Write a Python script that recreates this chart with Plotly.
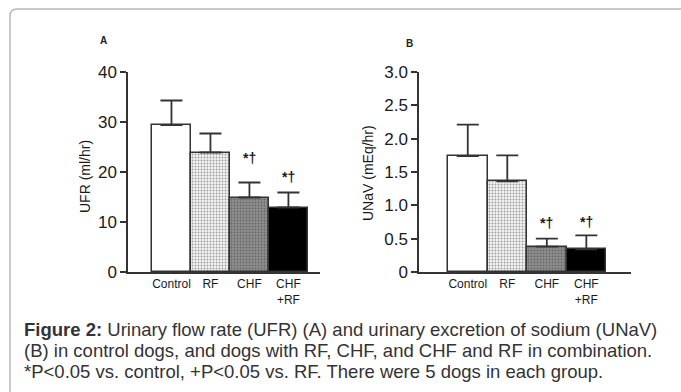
import plotly.graph_objects as go

categories = ["Control", "RF", "CHF", "CHF<br>+RF"]
ufr_mean = [29.4, 23.9, 14.9, 12.9]
ufr_err_top = [34.3, 27.7, 17.9, 15.9]
unav_mean = [1.74, 1.36, 0.38, 0.34]
unav_err_top = [2.21, 1.75, 0.50, 0.55]
sig_labels = ["", "", "*†", "*†"]
ufr_sig_y = [None, None, 22.8, 19.0]
unav_sig_y = [None, None, 0.74, 0.75]
ufr_ticks = [0, 10, 20, 30, 40]
ufr_ticktext = ["0", "10", "20", "30", "40"]
unav_ticks = [0, 0.5, 1.0, 1.5, 2.0, 2.5, 3.0]
unav_ticktext = ["0", "0.5", "1.0", "1.5", "2.0", "2.5", "3.0"]
caption_lines = [
    "<b>Figure 2:</b> Urinary flow rate (UFR) (A) and urinary excretion of sodium (UNaV)",
    "(B) in control dogs, and dogs with RF, CHF, and CHF and RF in combination.",
    "*P&lt;0.05 vs. control, +P&lt;0.05 vs. RF. There were 5 dogs in each group.",
]

W, H = 681, 392
xpos = list(range(len(categories)))

bar_colors = ["#ffffff", "#f3f3f3", "#8e8e8e", "#000000"]
pat_shapes = ["", ".", ".", ""]
pat_fg = ["#ffffff", "#cfcfcf", "#5a5a5a", "#000000"]
line_c = "#333333"

def bars(means, tops, xa, ya):
    return go.Bar(
        x=xpos, y=means, width=1.0, xaxis=xa, yaxis=ya,
        marker=dict(color=bar_colors,
                    line=dict(color=line_c, width=1.5),
                    pattern=dict(shape=pat_shapes, fgcolor=pat_fg, fillmode="overlay",
                                 size=3, solidity=0.3)),
        error_y=dict(type="data", symmetric=False,
                     array=[t - m for t, m in zip(tops, means)],
                     arrayminus=[0] * len(means),
                     color=line_c, thickness=1.8, width=11),
        showlegend=False, hoverinfo="skip")

fig = go.Figure()
fig.add_trace(bars(ufr_mean, ufr_err_top, "x", "y"))
fig.add_trace(bars(unav_mean, unav_err_top, "x2", "y2"))

ydom = [120 / H, 320 / H]
tickfont = dict(family="Liberation Sans, Arial, sans-serif", size=17, color="#1a1a1a")
catfont = dict(family="Liberation Sans, Arial, sans-serif", size=12, color="#1a1a1a")

axis_common = dict(showline=True, linecolor=line_c, linewidth=1.5, showgrid=False,
                   zeroline=False, fixedrange=True, automargin=False)

fig.update_layout(
    template="none",
    width=W, height=H, margin=dict(l=0, r=0, t=0, b=0, pad=0), autosize=False,
    paper_bgcolor="white", plot_bgcolor="white", bargap=0,
    xaxis=dict(domain=[128 / W, 320 / W], range=[-1.115, 3.81], tickvals=xpos,
               ticktext=categories, ticks="", tickfont=catfont, anchor="y", **axis_common),
    yaxis=dict(domain=ydom, range=[0, 40], tickvals=ufr_ticks, ticktext=ufr_ticktext,
               ticks="outside", ticklen=6, tickwidth=1.5, tickcolor=line_c,
               tickfont=tickfont, anchor="x", **axis_common),
    xaxis2=dict(domain=[419 / W, 631 / W], range=[-1.234, 4.13], tickvals=xpos,
                ticktext=categories, ticks="", tickfont=catfont, anchor="y2", **axis_common),
    yaxis2=dict(domain=ydom, range=[0, 3], tickvals=unav_ticks, ticktext=unav_ticktext,
                ticks="outside", ticklen=6, tickwidth=1.5, tickcolor=line_c,
                tickfont=tickfont, anchor="x2", **axis_common),
)

sigfont = dict(family="Liberation Sans, Arial", size=14, color="#1a1a1a")
ann = []
for i, lab in enumerate(sig_labels):
    if lab and ufr_sig_y[i] is not None:
        ann.append(dict(x=xpos[i], y=ufr_sig_y[i], xref="x", yref="y", text="<b>" + lab + "</b>",
                        showarrow=False, font=sigfont))
    if lab and unav_sig_y[i] is not None:
        ann.append(dict(x=xpos[i], y=unav_sig_y[i], xref="x2", yref="y2", text="<b>" + lab + "</b>",
                        showarrow=False, font=sigfont))

# panel letters
ann.append(dict(x=98 / W, y=1 - 33 / H, xref="paper", yref="paper", text="<b>A</b>",
                showarrow=False, font=dict(family="Liberation Sans, Arial", size=10, color="#222")))
ann.append(dict(x=409 / W, y=1 - 36 / H, xref="paper", yref="paper", text="<b>B</b>",
                showarrow=False, font=dict(family="Liberation Sans, Arial", size=10, color="#222")))
# axis titles
ann.append(dict(x=75 / W, y=1 - 177 / H, xref="paper", yref="paper", text="UFR (ml/hr)",
                textangle=-90, showarrow=False,
                font=dict(family="Liberation Sans, Arial", size=14, color="#1a1a1a")))
ann.append(dict(x=368 / W, y=1 - 173 / H, xref="paper", yref="paper", text="UNaV (mEq/hr)",
                textangle=-90, showarrow=False,
                font=dict(family="Liberation Sans, Arial", size=14, color="#1a1a1a")))

cap_y = [329, 350, 371]
for line, yy in zip(caption_lines, cap_y):
    ann.append(dict(x=22 / W, y=1 - yy / H, xref="paper", yref="paper", text=line,
                    xanchor="left", yanchor="middle", align="left", showarrow=False,
                    font=dict(family="Liberation Sans, Arial", size=18.5, color="#333")))
fig.update_layout(annotations=ann)

# rounded frame (left and top edges)
x0 = 10 / W
ytop = 1 - 9 / H
fig.add_shape(type="path", xref="paper", yref="paper",
              path=f"M {x0},0 L {x0},{ytop - 7 / H} Q {x0},{ytop} {x0 + 7 / W},{ytop} L 1,{ytop}",
              line=dict(color="#b8b8b8", width=1.5))

post = ("document.documentElement.style.margin='0';"
        "document.documentElement.style.overflow='hidden';"
        "document.body.style.margin='0';"
        "document.body.style.overflow='hidden';"
        "var d=document.getElementById('{plot_id}');"
        "d.style.position='fixed';d.style.left='0px';d.style.top='0px';")
fig.write_html("out.html", config={"displayModeBar": False}, post_script=post)
